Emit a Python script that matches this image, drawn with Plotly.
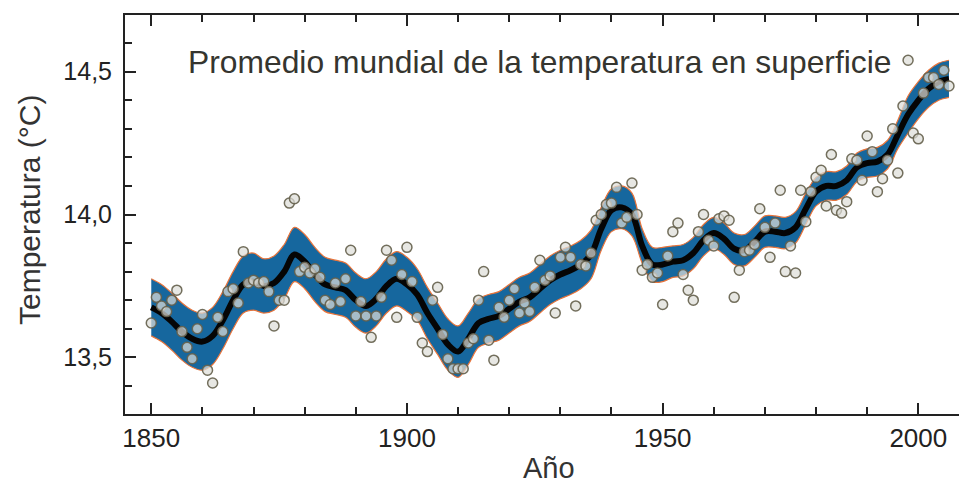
import plotly.graph_objects as go

# Annual global mean surface temperature (°C)
years = list(range(1850, 2007))
annual_temp = [
    13.62, 13.71, 13.68, 13.66, 13.70, 13.735, 13.59, 13.535, 13.495, 13.60,
    13.65, 13.455, 13.41, 13.64, 13.59, 13.73, 13.74, 13.69, 13.87, 13.76,
    13.77, 13.76, 13.765, 13.73, 13.61, 13.70, 13.70, 14.04, 14.055, 13.80,
    13.815, 13.795, 13.81, 13.78, 13.70, 13.685, 13.76, 13.695, 13.775, 13.875,
    13.645, 13.695, 13.645, 13.57, 13.645, 13.71, 13.875, 13.84, 13.64, 13.79,
    13.885, 13.765, 13.64, 13.55, 13.52, 13.70, 13.745, 13.58, 13.495, 13.46,
    13.46, 13.46, 13.55, 13.565, 13.70, 13.80, 13.56, 13.49, 13.675, 13.64,
    13.70, 13.74, 13.655, 13.69, 13.66, 13.745, 13.84, 13.77, 13.785, 13.655,
    13.85, 13.885, 13.85, 13.68, 13.825, 13.82, 13.865, 13.98, 14.00, 14.035,
    14.04, 14.095, 13.97, 13.99, 14.11, 14.00, 13.805, 13.825, 13.78, 13.795,
    13.685, 13.855, 13.94, 13.97, 13.79, 13.735, 13.70, 13.94, 14.00, 13.91,
    13.89, 13.985, 13.995, 13.98, 13.71, 13.805, 13.87, 13.875, 13.895, 14.02,
    13.955, 13.85, 13.97, 14.085, 13.80, 13.89, 13.795, 14.085, 13.975, 14.08,
    14.13, 14.155, 14.03, 14.21, 14.015, 14.005, 14.045, 14.195, 14.19, 14.12,
    14.275, 14.22, 14.08, 14.125, 14.19, 14.30, 14.145, 14.38, 14.54, 14.285,
    14.265, 14.425, 14.48, 14.48, 14.455, 14.505, 14.45,
]

# Decadal smoothed curve and its uncertainty half-width
smooth_years = list(range(1850, 2007, 2))
smooth_temp = [
    13.675, 13.655, 13.625, 13.59, 13.565, 13.555, 13.575, 13.63, 13.70, 13.755,
    13.765, 13.75, 13.76, 13.80, 13.86, 13.835, 13.79, 13.755, 13.745, 13.735,
    13.70, 13.68, 13.705, 13.75, 13.775, 13.755, 13.72, 13.655, 13.60, 13.545,
    13.52, 13.565, 13.62, 13.635, 13.645, 13.67, 13.695, 13.71, 13.74, 13.77,
    13.79, 13.805, 13.825, 13.86, 13.95, 14.015, 14.025, 14.00, 13.89, 13.825,
    13.825, 13.835, 13.84, 13.865, 13.91, 13.935, 13.915, 13.88, 13.875, 13.905,
    13.94, 13.94, 13.935, 13.955, 14.02, 14.08, 14.10, 14.10, 14.12, 14.165,
    14.18, 14.185, 14.21, 14.28, 14.35, 14.40, 14.44, 14.465, 14.475,
]
band_half = (
    [0.10] * 11 + [0.095] * 15 + [0.09] * 6 + [0.085] * 12 + [0.075] * 4
    + [0.06] * 3 + [0.055] * 14 + [0.05] * 9 + [0.065] * 5
)

x_ticks = [1850, 1900, 1950, 2000]
x_tick_text = ["1850", "1900", "1950", "2000"]
y_ticks = [13.5, 14.0, 14.5]
y_tick_text = ["13,5", "14,0", "14,5"]

band_upper = [s + h for s, h in zip(smooth_temp, band_half)]
band_lower = [s - h for s, h in zip(smooth_temp, band_half)]

BAND = "#16679e"
EDGE = "#e8743b"
AXIS = "#222222"
FONT = "Liberation Sans, Arial, Helvetica, sans-serif"

fig = go.Figure()
fig.add_trace(go.Scatter(
    x=smooth_years, y=band_lower, mode="lines",
    line=dict(color=EDGE, width=1.2, shape="spline", smoothing=1.0),
    hoverinfo="skip", showlegend=False,
))
fig.add_trace(go.Scatter(
    x=smooth_years, y=band_upper, mode="lines", fill="tonexty", fillcolor=BAND,
    line=dict(color=EDGE, width=1.2, shape="spline", smoothing=1.0),
    hoverinfo="skip", showlegend=False,
))
fig.add_trace(go.Scatter(
    x=smooth_years, y=smooth_temp, mode="lines",
    line=dict(color="#050505", width=6, shape="spline", smoothing=1.0),
    showlegend=False,
))
fig.add_trace(go.Scatter(
    x=years, y=annual_temp, mode="markers",
    marker=dict(size=10, color="rgba(222,222,216,0.72)",
                line=dict(color="rgba(100,95,75,0.9)", width=1.5)),
    showlegend=False,
))

# plot area spans x 125..959 px, y 15..414 px
def px_x(p):
    return (p - 125) / 834.0

def px_y(p):
    return (414 - p) / 399.0

fig.add_annotation(
    text="Promedio mundial de la temperatura en superficie",
    xref="paper", yref="paper", x=px_x(186), y=px_y(62),
    xanchor="left", yanchor="middle", showarrow=False,
    font=dict(family=FONT, size=31.8, color="#35352f"),
)
fig.add_annotation(
    text="Temperatura (°C)", textangle=-90,
    xref="paper", yref="paper", x=px_x(29), y=px_y(210),
    xanchor="center", yanchor="middle", showarrow=False,
    font=dict(family=FONT, size=30, color="#333333"),
)
fig.add_annotation(
    text="Año",
    xref="paper", yref="paper", x=px_x(549), y=px_y(468),
    xanchor="center", yanchor="middle", showarrow=False,
    font=dict(family=FONT, size=29, color="#333333"),
)

fig.update_xaxes(
    range=[1844.86, 2007.96], showgrid=False, zeroline=False,
    showline=True, linecolor=AXIS, linewidth=2, mirror="ticks",
    ticks="inside", ticklen=11, tickwidth=2, tickcolor=AXIS,
    tickvals=x_ticks, ticktext=x_tick_text,
    tickfont=dict(family=FONT, size=26, color=AXIS),
    minor=dict(dtick=10, tick0=1850, ticks="inside", ticklen=7,
               tickwidth=2, tickcolor=AXIS),
)
fig.update_yaxes(
    range=[13.3015, 14.6985], showgrid=False, zeroline=False,
    showline=True, linecolor=AXIS, linewidth=2,
    ticks="inside", ticklen=11, tickwidth=2, tickcolor=AXIS,
    tickvals=y_ticks, ticktext=y_tick_text, ticklabelstandoff=6,
    tickfont=dict(family=FONT, size=25, color=AXIS),
    minor=dict(dtick=0.1, tick0=13.3, ticks="inside", ticklen=7,
               tickwidth=2, tickcolor=AXIS),
)
fig.update_layout(
    width=959, height=484,
    margin=dict(l=125, r=0, t=15, b=70),
    paper_bgcolor="white", plot_bgcolor="white",
    showlegend=False,
)

fig.write_html("out.html")
